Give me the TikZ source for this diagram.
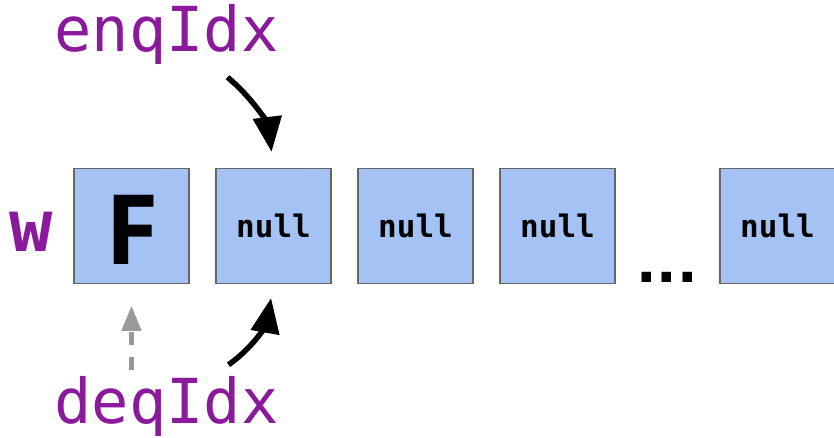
\documentclass[tikz,border=0pt]{standalone}
\usepackage{fontspec}
\usetikzlibrary{arrows.meta}
\newfontfamily\monofont{DejaVu Sans Mono}
\newfontfamily\sansbold{DejaVu Sans}
\newfontfamily\openbold{Open Sans}
\definecolor{lblpurple}{HTML}{8A1A9B}
\definecolor{cellfill}{HTML}{A4C2F4}
\definecolor{cellline}{HTML}{666666}
\definecolor{dashgray}{HTML}{999999}
\tikzset{
  cell/.style={draw=cellline, line width=1.5pt, fill=cellfill, minimum width=115pt, minimum height=115pt, inner sep=0pt},
  nulltext/.style={font=\monofont\bfseries\fontsize{31}{31}\selectfont},
  idxlabel/.style={text=lblpurple, font=\monofont\fontsize{62}{62}\selectfont, inner sep=0pt, anchor=base},
  bigarrow/.style={line width=5.5pt, -{Triangle[length=35pt,width=28pt]}},
  dasharrow/.style={dashgray, line width=4.5pt, dash pattern=on 13pt off 12pt, -{Triangle[length=25pt,width=19pt]}},
}
\begin{document}
\begin{tikzpicture}[x=1pt,y=-1pt]
\useasboundingbox (0,0) rectangle (834,437);
\clip (0,0) rectangle (834,437);
\node[cell] (b0) at (131.5,226) {};
\node[cell, nulltext] (b1) at (273.5,226) {null};
\node[cell, nulltext] (b2) at (415.5,226) {null};
\node[cell, nulltext] (b3) at (557.5,226) {null};
\node[cell, nulltext] (b4) at (777.5,226) {null};
\node[anchor=base, inner sep=0pt, font=\openbold\bfseries\fontsize{97}{97}\selectfont] (f) at (132,264) {F};
\node[anchor=base, inner sep=0pt, text=lblpurple, font=\monofont\bfseries\fontsize{72}{72}\selectfont] (w) at (31.5,251) {w};
\node[anchor=base, inner sep=0pt, font=\sansbold\bfseries\fontsize{54}{54}\selectfont] (dots) at (667,282) {...};
\node[idxlabel] (enq) at (166.5,51) {enqIdx};
\node[idxlabel] (deq) at (166.5,423) {deqIdx};
\draw[bigarrow, shorten >=16pt] ([xshift=61pt,yshift=-13pt]enq.south) to[out=-40,in=97] (b1.north);
\draw[bigarrow, shorten >=14pt] ([xshift=62pt,yshift=11pt]deq.north) to[out=35,in=-100] (b1.south);
\draw[dasharrow, shorten >=21.5pt] ([yshift=-85.5pt]b0.south) coordinate (ds) -- (b0.south);
\end{tikzpicture}
\end{document}
